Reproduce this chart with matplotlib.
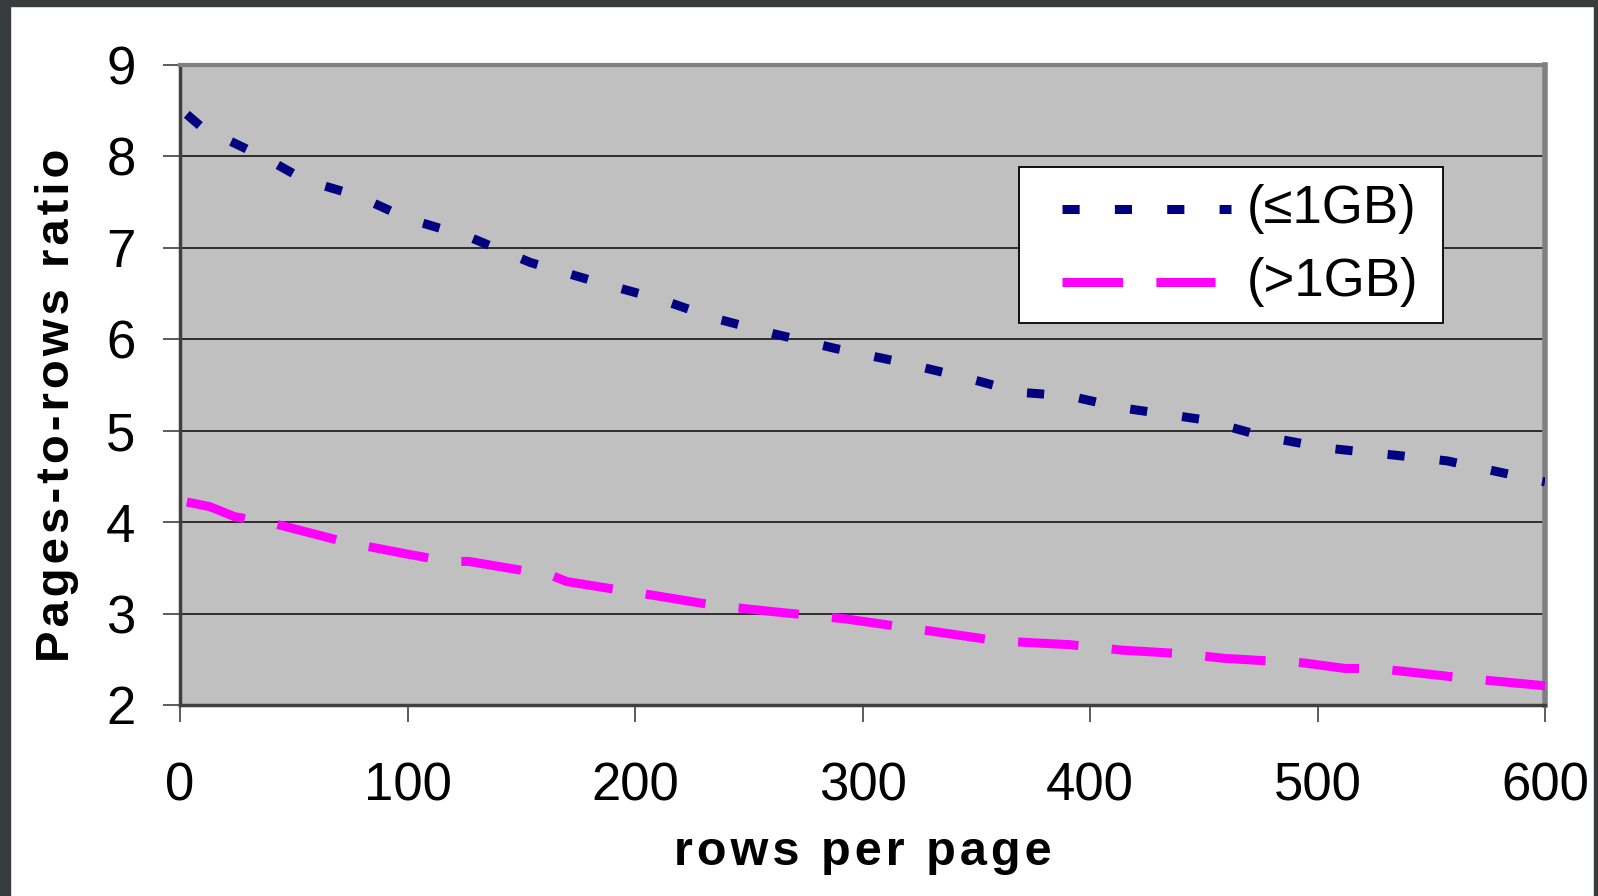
import numpy as np
import matplotlib
matplotlib.use("Agg")
import matplotlib.pyplot as plt
from matplotlib.patches import Rectangle
from matplotlib.lines import Line2D

# values
x_small = [3, 10, 37, 55, 78, 100, 127, 154, 180, 212, 235, 261, 288, 315, 347, 369,
           391, 414, 450, 476, 504, 535, 557, 600]
y_small = [8.46, 8.31, 7.99, 7.74, 7.57, 7.32, 7.12, 6.84, 6.65, 6.43, 6.23, 6.06, 5.90,
           5.76, 5.57, 5.42, 5.38, 5.25, 5.12, 4.94, 4.81, 4.73, 4.67, 4.44]

x_large = [3, 13, 24, 42, 73, 100, 118, 127, 163, 170, 185, 208, 235, 261, 293, 324,
           360, 391, 414, 441, 459, 494, 512, 526, 548, 566, 600]
y_large = [4.22, 4.17, 4.06, 3.98, 3.78, 3.65, 3.57, 3.57, 3.42, 3.35, 3.29, 3.20, 3.09,
           3.02, 2.94, 2.83, 2.70, 2.66, 2.60, 2.56, 2.51, 2.46, 2.40, 2.40, 2.34, 2.29, 2.21]

labels = ["(≤1GB)", "(>1GB)"]
x_ticks = [0, 100, 200, 300, 400, 500, 600]
y_ticks = [2, 3, 4, 5, 6, 7, 8, 9]
x_title = "rows per page"
y_title = "Pages-to-rows ratio"

plt.rcParams['font.family'] = ['Liberation Sans', 'DejaVu Sans']


def spaced(s):
    # excel-style wide letter spacing
    return "\u200a".join(s)


W, H = 1598, 896
fig = plt.figure(figsize=(W / 100, H / 100), dpi=100)
fig.patch.set_facecolor("white")

# dark frame around the picture
fig.add_artist(Rectangle((0, 0), 10 / W, 1, transform=fig.transFigure, color="#393c3c", zorder=0))
fig.add_artist(Rectangle((0, 1 - 6 / H), 1, 6 / H, transform=fig.transFigure, color="#393c3c", zorder=0))
fig.add_artist(Rectangle((1 - 4 / W, 0), 4 / W, 1, transform=fig.transFigure, color="#393c3c", zorder=0))

left, right, top, bottom = 180, 1545, 65, 705
ax = fig.add_axes([left / W, 1 - bottom / H, (right - left) / W, (bottom - top) / H])
ax.set_facecolor("#c0c0c0")

lw = 6.5
styles = [dict(color="#000080", linestyle=(0, (1.9, 3.9))),
          dict(color="#ff00ff", linestyle=(0, (6.7, 3.7)))]
ax.plot(x_small, y_small, lw=lw, dash_capstyle="butt", zorder=3, **styles[0])
ax.plot(x_large, y_large, lw=lw, dash_capstyle="butt", zorder=3, **styles[1])

ax.set_xlim(0, 600)
ax.set_ylim(2, 9)
ax.set_xticks(x_ticks)
ax.set_yticks(y_ticks)
ax.tick_params(axis="both", direction="out", length=12, width=1.2, colors="#404040",
               labelcolor="black", labelsize=38)
ax.tick_params(axis="y", pad=20)
ax.tick_params(axis="x", pad=29)

ax.grid(axis="y", color="#222222", lw=1.3)
ax.set_axisbelow(True)

ax.spines["left"].set_color("#404040")
ax.spines["left"].set_linewidth(2.5)
ax.spines["bottom"].set_color("#404040")
ax.spines["bottom"].set_linewidth(2.5)
ax.spines["top"].set_color("#808080")
ax.spines["top"].set_linewidth(3)
ax.spines["right"].set_color("#808080")
ax.spines["right"].set_linewidth(4)

ax.set_xlabel(spaced(x_title), fontsize=35, fontweight="bold", va="center")
ax.xaxis.set_label_coords(0.5, -0.23)
ax.set_ylabel(spaced(y_title), fontsize=34, fontweight="bold", va="center")
ax.yaxis.set_label_coords(-0.0901, 0.469)

# legend box, drawn by hand to match the excel layout
ax.add_patch(Rectangle((0.6147, 0.5969), 0.3106, 0.2437, transform=ax.transAxes,
                       facecolor="white", edgecolor="black", lw=1.3, zorder=5, clip_on=False))
rows = [(0.775, 0.770), (0.661, 0.7582)]
for (yy, x_end), st, lab in zip(rows, styles, labels):
    ax.add_line(Line2D([0.6462, x_end], [yy, yy], transform=ax.transAxes, lw=lw,
                       dash_capstyle="butt", zorder=6, clip_on=False, **st))
    ax.text(0.7817, yy, lab, transform=ax.transAxes, fontsize=38, va="center",
            ha="left", zorder=6)

fig.savefig("out.png", dpi=100)
